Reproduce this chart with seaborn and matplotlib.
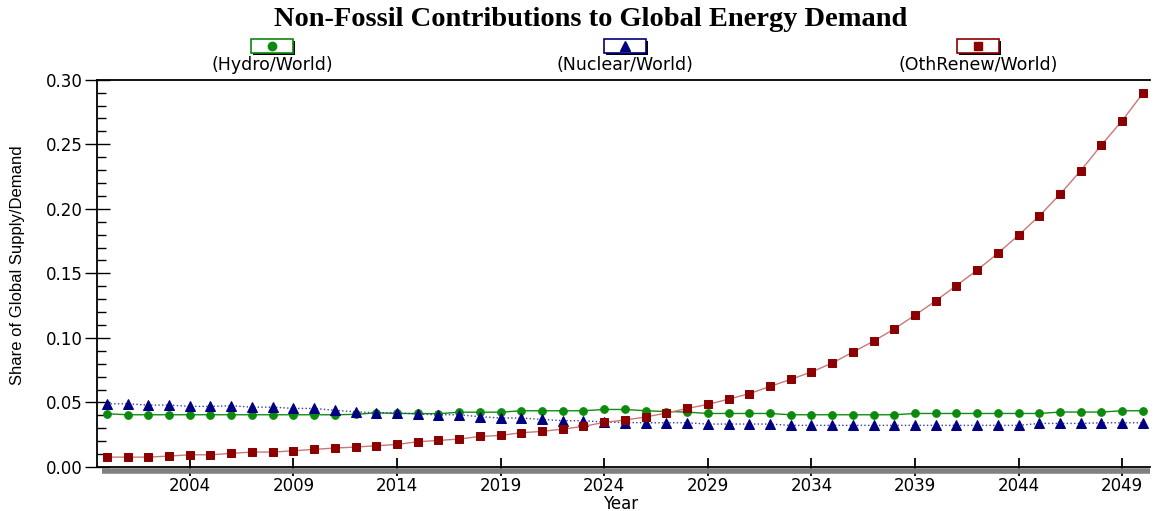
import matplotlib
matplotlib.use("Agg")
import matplotlib.pyplot as plt
import matplotlib.patches as mpatches
from matplotlib.lines import Line2D
from matplotlib.ticker import MultipleLocator, NullLocator
import pandas as pd
import seaborn as sns

years = list(range(2000, 2051))

hydro = [
    0.0413,
    0.0405, 0.0405, 0.0405, 0.0405, 0.0405, 0.0405,
    0.0405, 0.0405, 0.0405, 0.0405, 0.0405, 0.0408,
    0.0420, 0.0415, 0.0415, 0.0413,
    0.0425, 0.0425, 0.0425,
    0.0436, 0.0436, 0.0436, 0.0436,
    0.0446, 0.0446,
    0.0436, 0.0430, 0.0426,
    0.0415, 0.0415, 0.0415, 0.0415,
    0.0405, 0.0405, 0.0405, 0.0405, 0.0405, 0.0405,
    0.0415, 0.0415, 0.0415, 0.0415, 0.0415, 0.0415, 0.0415,
    0.0426, 0.0426, 0.0426,
    0.0436, 0.0436,
]

nuclear = [
    0.0490, 0.0490, 0.0480, 0.0480, 0.0470, 0.0470, 0.0475, 0.0464, 0.0464, 0.0454,
    0.0454, 0.0439, 0.0428, 0.0420, 0.0420, 0.0410, 0.0405, 0.0405, 0.0390, 0.0380,
    0.0380, 0.0369, 0.0359, 0.0359, 0.0348, 0.0345, 0.0343, 0.0343, 0.0343,
    0.0333, 0.0333, 0.0333, 0.0333,
    0.0323, 0.0323, 0.0323, 0.0323, 0.0323, 0.0323,
    0.0323, 0.0323, 0.0323, 0.0323, 0.0323, 0.0323,
    0.0338, 0.0338, 0.0338,
    0.0343, 0.0343, 0.0343,
]

oth_renew = [
    0.0077, 0.0077, 0.0077, 0.0085, 0.0095, 0.0095, 0.0106, 0.0116, 0.0116, 0.0126,
    0.0137, 0.0147, 0.0155, 0.0165, 0.0175, 0.0196, 0.0206, 0.0217, 0.0237, 0.0245,
    0.0266, 0.0276, 0.0294, 0.0315, 0.0346, 0.0364, 0.0388, 0.0418, 0.0454, 0.0485,
    0.0526, 0.0568, 0.0624, 0.0679, 0.0736, 0.0805, 0.0890, 0.0975, 0.1070, 0.1176,
    0.1287, 0.1406, 0.1525, 0.1656, 0.1796, 0.1945, 0.2113, 0.2296, 0.2495, 0.2683,
    0.2895,
]

series_labels = ["(Hydro/World)", "(Nuclear/World)", "(OthRenew/World)"]
x_ticks = [2004, 2009, 2014, 2019, 2024, 2029, 2034, 2039, 2044, 2049]

df = pd.DataFrame({
    "Year": years,
    "hydro": hydro,
    "nuclear": nuclear,
    "oth": oth_renew,
})

sns.set_style("ticks")
plt.rcParams["font.family"] = ["DejaVu Sans"]
plt.rcParams["text.color"] = "black"
plt.rcParams["axes.labelcolor"] = "black"
plt.rcParams["xtick.color"] = "black"
plt.rcParams["ytick.color"] = "black"

fig = plt.figure(figsize=(11.54, 5.11), dpi=100)
ax = fig.add_axes([0.084, 0.086, 0.9125, 0.758])

# series styles: (column, line colour, marker colour, marker, size, linestyle)
styles = [
    ("hydro", "#128c12", "#0b8a0b", "o", 5.5, "-"),
    ("nuclear", "#3a3ab0", "#000080", "^", 7, ":"),
    ("oth", "#c87878", "#8b0000", "s", 5.5, "-"),
]

for col, lc, mc, mk, ms, ls in styles:
    sns.lineplot(data=df, x="Year", y=col, ax=ax, color=lc, linestyle=ls,
                 linewidth=1.0, marker=mk, markersize=ms,
                 markerfacecolor=mc, markeredgecolor=mc, legend=False)

ax.set_xlim(1999.52, 2050.34)
ax.set_ylim(0, 0.30)
ax.set_xticks(x_ticks)
ax.xaxis.set_minor_locator(NullLocator())
ax.set_xticklabels([str(y) for y in x_ticks], fontsize=12)
ax.yaxis.set_major_locator(MultipleLocator(0.05))
ax.yaxis.set_minor_locator(MultipleLocator(0.01))
ax.set_yticklabels([f"{v:.2f}" for v in ax.get_yticks()], fontsize=12)
# lengths in points (1 px = 0.72 pt at 100 dpi)
ax.tick_params(axis="y", which="major", direction="inout", length=18, width=1,
               left=True, pad=1)
ax.tick_params(axis="y", which="minor", direction="in", length=6.5, width=1, left=True)
ax.tick_params(axis="x", which="major", direction="inout", length=13, width=1.3,
               bottom=True, pad=1)
ax.tick_params(axis="x", which="minor", bottom=False)

ax.set_xlabel("Year", fontsize=12)
ax.xaxis.set_label_coords(0.497, -0.0715)
ax.set_ylabel("Share of Global Supply/Demand", fontsize=12,
              family=["Liberation Sans", "DejaVu Sans"])
ax.yaxis.set_label_coords(-0.068, 0.52)

for side in ["left", "top", "bottom"]:
    ax.spines[side].set_visible(True)
    ax.spines[side].set_color("black")
    ax.spines[side].set_linewidth(1.3)
ax.spines["right"].set_visible(False)

# grey shadow under the x axis
ax.add_line(Line2D([0.005, 1.0], [-0.01, -0.01], transform=ax.transAxes,
                   color="#808080", linewidth=4, clip_on=False, zorder=1,
                   solid_capstyle="butt"))

# title
fig.text(0.512, 0.962, "Non-Fossil Contributions to Global Energy Demand",
         ha="center", va="center", fontsize=20.5, fontweight="bold",
         family=["Liberation Serif", "DejaVu Serif"])

# legend: marker box above each label
legend_x = [272 / 1154, 625 / 1154, 978 / 1154]
for (col, lc, mc, mk, ms, ls), lx, lab in zip(styles, legend_x, series_labels):
    bw, bh = 42 / 1154, 14 / 511
    by = 1 - 53 / 511
    fig.patches.append(mpatches.Rectangle((lx - bw / 2 + 2 / 1154, by - 2 / 511), bw, bh,
                                          transform=fig.transFigure, facecolor="black",
                                          edgecolor="none", zorder=2))
    fig.patches.append(mpatches.Rectangle((lx - bw / 2, by), bw, bh,
                                          transform=fig.transFigure, facecolor="white",
                                          edgecolor=mc, linewidth=1.2, zorder=3))
    fig.add_artist(Line2D([lx], [by + bh / 2], transform=fig.transFigure, marker=mk,
                          markersize=ms + 0.5, color=mc, linestyle="none", zorder=4))
    fig.text(lx, 1 - 65 / 511, lab, ha="center", va="center", fontsize=12.5)

fig.savefig("out.png", dpi=100)
